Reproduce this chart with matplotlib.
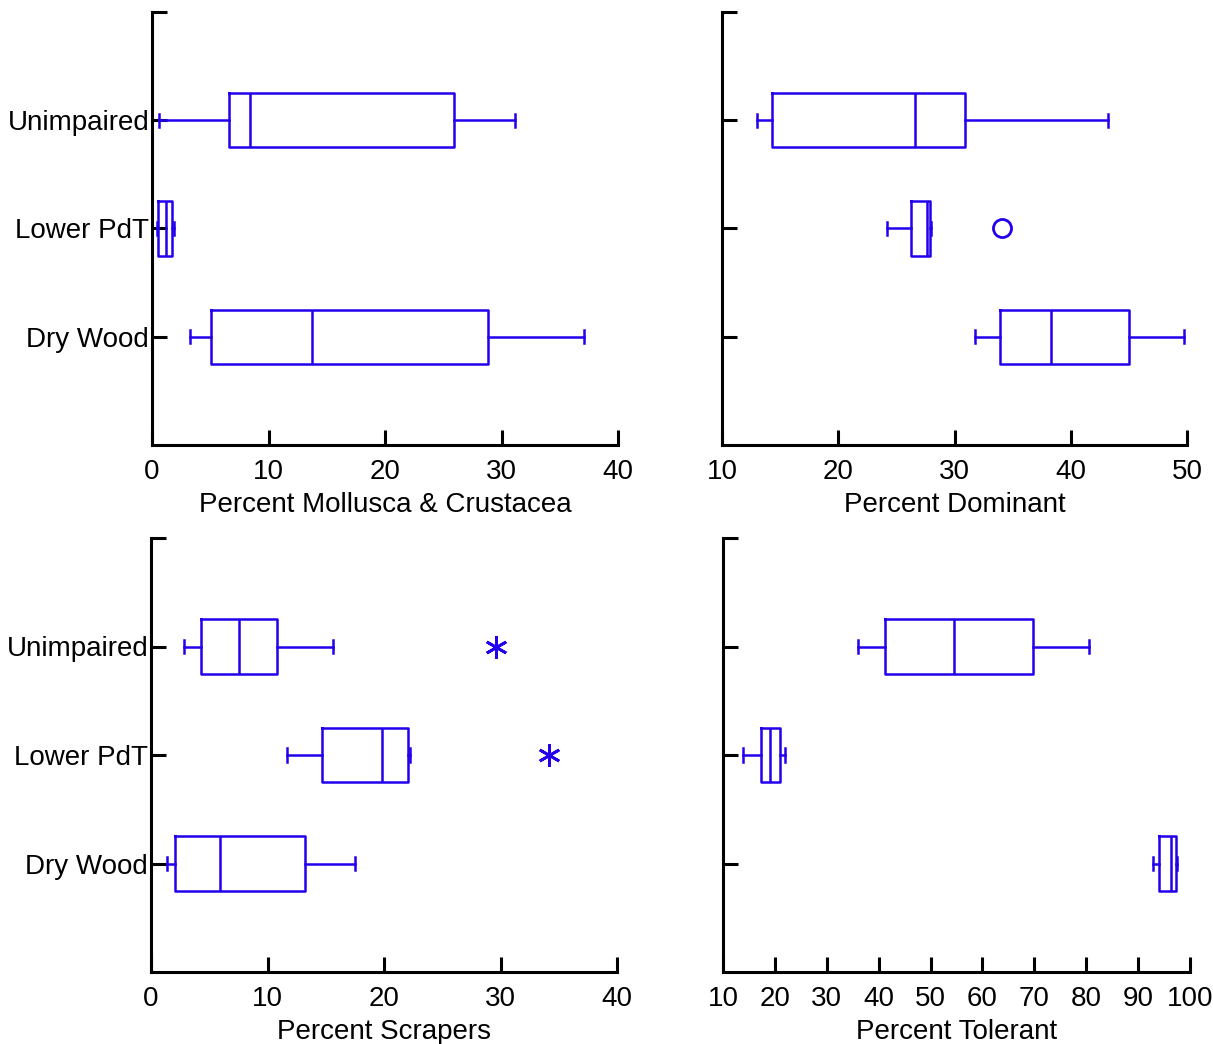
import matplotlib
matplotlib.use("Agg")
import matplotlib.pyplot as plt

plt.rcParams['font.family'] = ['Liberation Sans', 'DejaVu Sans']

categories = ["Unimpaired", "Lower PdT", "Dry Wood"]

# Percent Mollusca & Crustacea: whislo, q1, med, q3, whishi
moll_whislo = [0.6, 0.4, 3.3]
moll_q1 = [6.6, 0.5, 5.1]
moll_med = [8.4, 1.2, 13.7]
moll_q3 = [25.9, 1.7, 28.8]
moll_whishi = [31.2, 1.9, 37.1]
moll_fliers = [[], [], []]

# Percent Dominant
dom_whislo = [13.0, 24.2, 31.8]
dom_q1 = [14.3, 26.3, 33.9]
dom_med = [26.6, 27.6, 38.3]
dom_q3 = [30.9, 27.9, 45.0]
dom_whishi = [43.2, 27.95, 49.7]
dom_fliers = [[], [34.1], []]

# Percent Scrapers
scr_whislo = [2.8, 11.7, 1.4]
scr_q1 = [4.3, 14.7, 2.1]
scr_med = [7.55, 19.85, 5.9]
scr_q3 = [10.8, 22.1, 13.25]
scr_whishi = [15.6, 22.2, 17.5]
scr_fliers = [[29.6], [34.2], []]

# Percent Tolerant
tol_whislo = [35.95, 13.9, 92.9]
tol_q1 = [41.2, 17.3, 94.1]
tol_med = [54.45, 19.1, 96.3]
tol_q3 = [69.7, 21.0, 97.3]
tol_whishi = [80.5, 21.9, 97.4]
tol_fliers = [[], [], []]

BLUE = "#2200ee"
LW = 1.8
SPW = 2.2

fig = plt.figure(figsize=(12.13, 10.44), dpi=100)

def make_stats(lo, q1, med, q3, hi, fl):
    return [dict(whislo=a, q1=b, med=c, q3=d, whishi=e, fliers=f)
            for a, b, c, d, e, f in zip(lo, q1, med, q3, hi, fl)]

def panel(rect, stats, xlim, xticks, xlabel, show_labels, flier_marker, flier_size):
    ax = fig.add_axes(rect)
    ax.bxp(stats, positions=[1, 2, 3], vert=False, widths=0.5, capwidths=0.12,
           boxprops=dict(color=BLUE, linewidth=LW),
           medianprops=dict(color=BLUE, linewidth=LW),
           whiskerprops=dict(color=BLUE, linewidth=LW),
           capprops=dict(color=BLUE, linewidth=LW),
           flierprops=dict(marker=flier_marker, markersize=flier_size,
                           markeredgecolor=BLUE, markerfacecolor='none',
                           markeredgewidth=2.0, linestyle='none'),
           manage_ticks=False)
    ax.set_ylim(4, 0)
    ax.set_xlim(*xlim)
    ax.set_yticks([0, 1, 2, 3])
    if show_labels:
        ax.set_yticklabels([""] + categories)
    else:
        ax.set_yticklabels([""] * 4)
    ax.set_xticks(xticks)
    ax.set_xticklabels([str(t) for t in xticks])
    for s in ("top", "right"):
        ax.spines[s].set_visible(False)
    for s in ("left", "bottom"):
        ax.spines[s].set_linewidth(SPW)
    ax.tick_params(axis='both', direction='in', length=11, width=SPW,
                   labelsize=20, colors='black')
    ax.tick_params(axis='y', pad=2)
    ax.tick_params(axis='x', pad=10)
    ax.set_xlabel(xlabel, fontsize=20, labelpad=5)
    return ax

panel([152/1213, 1-445/1044, 466/1213, 433/1044],
      make_stats(moll_whislo, moll_q1, moll_med, moll_q3, moll_whishi, moll_fliers),
      (0, 40), [0, 10, 20, 30, 40], "Percent Mollusca & Crustacea", True, 'o', 13)
panel([722/1213, 1-445/1044, 465/1213, 433/1044],
      make_stats(dom_whislo, dom_q1, dom_med, dom_q3, dom_whishi, dom_fliers),
      (10, 50), [10, 20, 30, 40, 50], "Percent Dominant", False, 'o', 13)
panel([151/1213, 1-972/1044, 466/1213, 434/1044],
      make_stats(scr_whislo, scr_q1, scr_med, scr_q3, scr_whishi, scr_fliers),
      (0, 40), [0, 10, 20, 30, 40], "Percent Scrapers", True, (6, 2, 0), 16)
panel([723/1213, 1-972/1044, 467/1213, 434/1044],
      make_stats(tol_whislo, tol_q1, tol_med, tol_q3, tol_whishi, tol_fliers),
      (10, 100), [10, 20, 30, 40, 50, 60, 70, 80, 90, 100], "Percent Tolerant", False, 'o', 13)

fig.savefig("out.png", dpi=100)
